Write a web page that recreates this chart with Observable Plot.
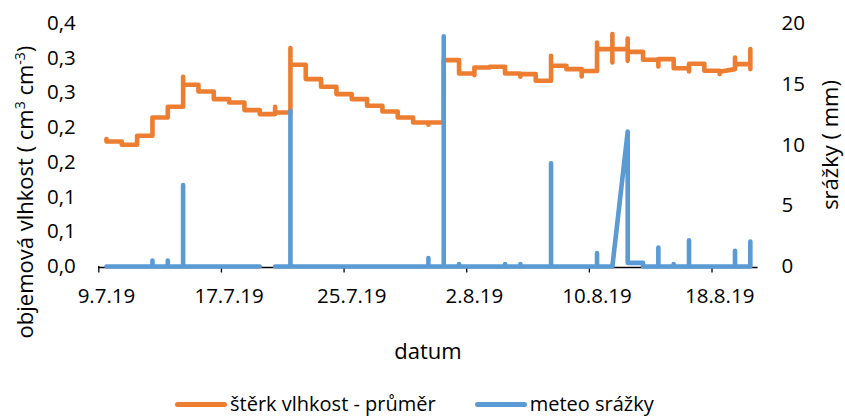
<!DOCTYPE html>
<html>
<head>
<meta charset="utf-8">
<script src="https://cdn.jsdelivr.net/npm/d3@7"></script>
<script src="https://cdn.jsdelivr.net/npm/@observablehq/plot@0.6"></script>
<style>
  html, body { margin: 0; padding: 0; background: #fff; }
  #wrap { position: relative; width: 845px; height: 418px; font-family: "Open Sans", sans-serif; color: #000; overflow: hidden; }
  #legend { position: absolute; top: 393px; left: 175px; display: flex; align-items: center; font-size: 20px; line-height: 22px; white-space: nowrap; }
  .sw { display: inline-block; width: 52px; height: 5px; border-radius: 3px; margin-right: 3px; }
  .item { display: flex; align-items: center; }
</style>
</head>
<body>
<div id="wrap"></div>
<script>
// ---- data ----
const firstDay = Date.UTC(2019, 6, 9);          // 9.7.2019
const lastDayExclusive = Date.UTC(2019, 7, 21); // axis ends after 20.8.2019

// soil moisture (štěrk vlhkost - průměr), values within each day in order, cm3/cm3
const orangeByDay = [
  [0.1835, 0.1800], [0.1800, 0.1753], [0.1753, 0.1883], [0.1883, 0.2146],
  [0.2146, 0.2300], [0.2300, 0.2732, 0.2617], [0.2617, 0.2520], [0.2520, 0.2411],
  [0.2411, 0.2362], [0.2362, 0.2253], [0.2253, 0.2195], [0.2195, 0.2300, 0.2218],
  [0.2218, 0.3146, 0.2905], [0.2905, 0.2699], [0.2699, 0.2588], [0.2588, 0.2483],
  [0.2483, 0.2411], [0.2411, 0.2315], [0.2315, 0.2232], [0.2232, 0.2146],
  [0.2146, 0.2074], [0.2074, 0.2041, 0.2074], [0.2074, 0.2973], [0.2973, 0.2780],
  [0.2780, 0.2757, 0.2866], [0.2866, 0.2876], [0.2876, 0.2780], [0.2780, 0.2732, 0.2771],
  [0.2771, 0.2675], [0.2675, 0.3035, 0.2891], [0.2891, 0.2843], [0.2843, 0.2736, 0.2815],
  [0.2815, 0.3226, 0.3131], [0.3131, 0.3347, 0.2938, 0.3131], [0.3131, 0.3284, 0.2962, 0.3092],
  [0.3092, 0.2977], [0.2977, 0.2881, 0.2987], [0.2987, 0.2855], [0.2855, 0.2809, 0.2920],
  [0.2920, 0.2819], [0.2819, 0.2771, 0.2804], [0.2843, 0.3010, 0.2915], [0.2915, 0.3131, 0.2843]
];

// precipitation (meteo srážky), values within each day in order, mm (null = missing)
const blueByDay = [
  [0], [0], [0], [0, 0.5, 0], [0, 0.5, 0], [0, 6.7, 0], [0], [0], [0], [0],
  [0, null], [0], [0, 12.8, 0], [0], [0], [0], [0], [0], [0], [0],
  [0], [0, 0.7, 0], [0, 18.95, 0], [0, 0.2, 0], [0], [0], [0, 0.2, 0], [0, 0.2, 0],
  [0], [0, 8.5, 0], [0], [0], [0, 1.1, 0], [0], [11.1, 0.3], [0.3, 0],
  [0, 1.55, 0], [0, 0.2, 0], [0, 2.15, 0], [0], [0], [0, 1.3, 0], [0, 2.05, 0]
];

const xTickDates = ["2019-07-09", "2019-07-17", "2019-07-25", "2019-08-02", "2019-08-10", "2019-08-18"];
const xTickLabels = ["9.7.19", "17.7.19", "25.7.19", "2.8.19", "10.8.19", "18.8.19"];
const leftTicks = [0, 0.05, 0.10, 0.15, 0.20, 0.25, 0.30, 0.35];
const leftTickLabels = ["0,0", "0,1", "0,1", "0,2", "0,2", "0,3", "0,3", "0,4"];
const rightTicks = [0, 5, 10, 15, 20];
const rightTickLabels = ["0", "5", "10", "15", "20"];
const leftMax = 0.35, rightMax = 20;
const orangeColor = "#ED7D31", blueColor = "#5B9BD5";
const seriesNames = ["štěrk vlhkost - průměr", "meteo srážky"];

// ---- build tables ----
const DAY = 864e5;
const dayCenter = i => new Date(firstDay + i * DAY + DAY / 2);
const orangePts = orangeByDay.flatMap((vals, i) => vals.map(v => ({t: dayCenter(i), v})));
const k = leftMax / rightMax;
const bluePts = blueByDay.flatMap((vals, i) => vals.map(v => ({t: dayCenter(i), v: v == null ? null : v * k})));

const tickDates = xTickDates.map(s => new Date(s + "T00:00:00Z"));
const labelDates = tickDates.map(d => new Date(+d + DAY / 2));
const labelMap = new Map(labelDates.map((d, i) => [+d, xTickLabels[i]]));
const leftMap = new Map(leftTicks.map((d, i) => [d, leftTickLabels[i]]));
const rightPos = rightTicks.map(d => d * k);
const rightMap = new Map(rightPos.map((d, i) => [d, rightTickLabels[i]]));

const chart = Plot.plot({
  width: 845,
  height: 380,
  marginLeft: 98.3,
  marginRight: 87.5,
  marginTop: 23,
  marginBottom: 114,
  style: {fontFamily: "Open Sans, sans-serif", fontSize: "20.5px", color: "#000", background: "#fff", overflow: "visible"},
  x: {type: "utc", domain: [new Date(firstDay), new Date(lastDayExclusive)]},
  y: {domain: [0, leftMax]},
  marks: [
    Plot.ruleY([0], {stroke: "#000", strokeWidth: 1.3, dy: 1}),
    Plot.axisX(tickDates, {label: null, tickSize: 6.5, tickFormat: () => "", stroke: "#000", strokeWidth: 1.3}),
    Plot.axisX(labelDates, {label: null, tickSize: 0, tickPadding: 22, tickFormat: d => labelMap.get(+d), fontSize: 20.5, fill: "#000"}),
    Plot.axisY(leftTicks, {label: null, anchor: "left", tickSize: 0, tickPadding: 23, tickFormat: d => leftMap.get(d), fontSize: 20.5, fill: "#000"}),
    Plot.axisY(rightPos, {label: null, anchor: "right", tickSize: 0, tickPadding: 23.5, tickFormat: d => rightMap.get(d), fontSize: 20.5, fill: "#000"}),
    Plot.line(orangePts, {x: "t", y: "v", stroke: orangeColor, strokeWidth: 4.6, strokeLinecap: "round", strokeLinejoin: "round"}),
    Plot.line(bluePts, {x: "t", y: "v", stroke: blueColor, strokeWidth: 4.6, strokeLinecap: "round", strokeLinejoin: "round"})
  ]
});

const svg = d3.select(chart);
// left axis title with superscripts
const lt = svg.append("text")
  .attr("transform", "translate(33,192) rotate(-90)")
  .attr("text-anchor", "middle")
  .attr("font-family", "Open Sans, sans-serif")
  .attr("font-size", 22)
  .attr("fill", "#000");
lt.append("tspan").text("objemová vlhkost ( cm");
lt.append("tspan").attr("dy", -8).attr("font-size", 14).text("3");
lt.append("tspan").attr("dy", 8).text(" cm");
lt.append("tspan").attr("dy", -8).attr("font-size", 14).text("-3");
lt.append("tspan").attr("dy", 8).text(")");
// right axis title
svg.append("text")
  .attr("transform", "translate(838,145) rotate(-90)")
  .attr("text-anchor", "middle")
  .attr("font-family", "Open Sans, sans-serif")
  .attr("font-size", 22)
  .attr("fill", "#000")
  .text("srážky ( mm)");
// x axis title
svg.append("text")
  .attr("x", 428).attr("y", 359)
  .attr("text-anchor", "middle")
  .attr("font-family", "Open Sans, sans-serif")
  .attr("font-size", 22)
  .attr("fill", "#000")
  .text("datum");

const wrap = document.getElementById("wrap");
wrap.appendChild(chart);

const legend = document.createElement("div");
legend.id = "legend";
legend.innerHTML =
  `<div class="item"><span class="sw" style="background:${orangeColor}"></span><span>${seriesNames[0]}</span></div>` +
  `<div class="item" style="margin-left:39px"><span class="sw" style="background:${blueColor}"></span><span>${seriesNames[1]}</span></div>`;
wrap.appendChild(legend);
</script>
</body>
</html>
